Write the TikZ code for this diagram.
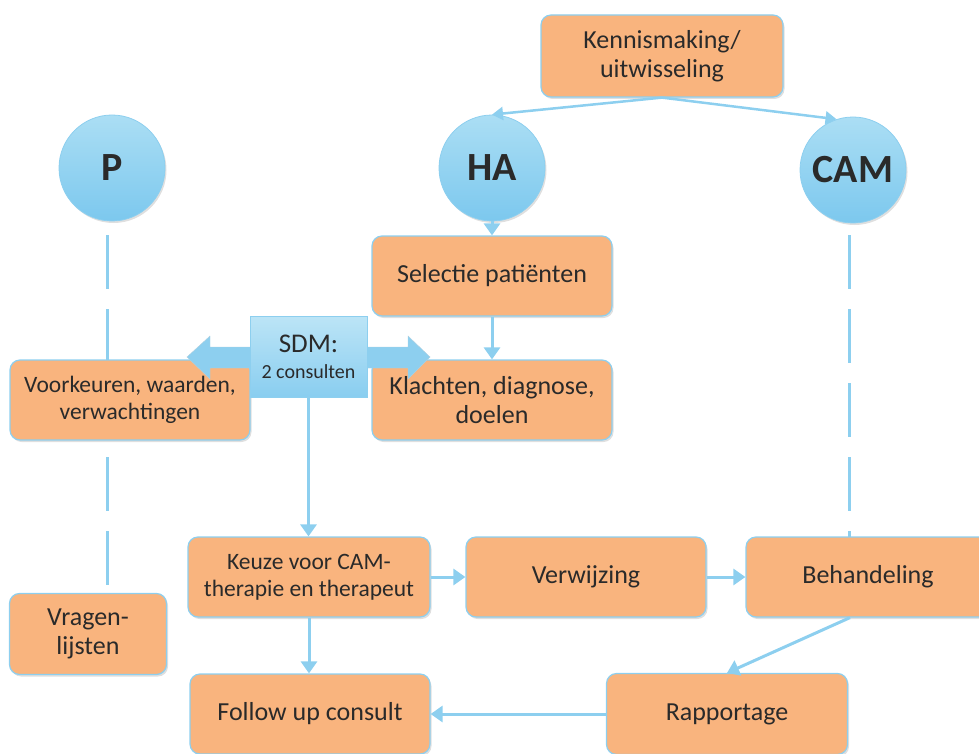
\documentclass[tikz,border=0pt]{standalone}
\usepackage{fontspec}
\setmainfont{Carlito}
\usetikzlibrary{arrows.meta}
\usetikzlibrary{shadows}
\usetikzlibrary{positioning}

\definecolor{boxorange}{HTML}{F9B47E}
\definecolor{lineblue}{HTML}{8DCFEF}
\definecolor{circtop}{HTML}{ABDEF4}
\definecolor{circbot}{HTML}{7CC8EE}
\definecolor{txtgray}{HTML}{2A2A2A}

\begin{document}
\begin{tikzpicture}[
  x=1pt,y=-1pt,
  every node/.style={align=center,text=txtgray},
  block/.style={draw=lineblue,line width=1.2pt,rounded corners=10pt,fill=boxorange,
    minimum width=240pt,minimum height=80pt,inner sep=2pt,
    font=\fontsize{26}{29}\selectfont,
    drop shadow={opacity=0.25,shadow xshift=1.5pt,shadow yshift=-2pt}},
  small/.style={font=\fontsize{23.5}{27}\selectfont},
  actor/.style={circle,minimum size=106pt,inner sep=0pt,draw=lineblue,line width=0.8pt,
    top color=circtop,bottom color=circbot,
    font=\fontsize{40}{41}\selectfont\bfseries,
    drop shadow={opacity=0.25,shadow xshift=1.5pt,shadow yshift=-2pt}},
  sdmbox/.style={draw=lineblue,line width=1pt,top color=circtop!80,bottom color=circbot!90,
    minimum width=117pt,minimum height=81pt,inner sep=2pt,
    font=\fontsize{27}{28}\selectfont},
  flow/.style={-{Triangle[length=12pt,width=16pt]},draw=lineblue,line width=3pt},
  link/.style={-{Triangle[length=11pt,width=13pt]},draw=lineblue,line width=2.5pt},
  lifeline/.style={draw=lineblue,line width=3pt,dash pattern=on 54pt off 20pt}]

  \useasboundingbox (0,0) rectangle (979,754);

  % Lifelines behind everything
  \coordinate (ptop) at (107,235);
  \coordinate (camtop) at (849,235);

  % Position the nodes
  \node[actor] (p) at (112,168) {P};
  \node[actor] (ha) at (492,168) {HA};
  \node[actor] (cam) at (853,170) {CAM};

  \node[block,minimum width=157pt,minimum height=81pt] (vragen) at (88,634) {Vragen-\\lijsten};
  \draw[lifeline] (ptop) -- (ptop |- vragen.north);
  \draw[lifeline] (camtop) -- (camtop |- 0,537);

  \node[block,minimum width=242pt,minimum height=82pt] (kennis) at (662,56) {Kennismaking/\\uitwisseling};
  \node[block] (selectie) at (492,276) {Selectie pati\"enten};
  \node[block,small] (voorkeur) at (130,400) {Voorkeuren, waarden,\\verwachtingen};
  \node[block] (klachten) at (492,400) {Klachten, diagnose,\\doelen};
  \node[block,small,minimum width=242pt] (keuze) at (309,577) {Keuze voor CAM-\\therapie en therapeut};
  \node[block] (verwijzing) at (586,577) {Verwijzing};
  \node[block,minimum width=244pt] (behandeling) at (868,577) {Behandeling};
  \node[block] (follow) at (310,714) {Follow up consult};
  \node[block,minimum width=241pt,minimum height=81pt] (rapport) at (727,714) {Rapportage};

  % SDM double arrow with its box on top
  \fill[lineblue,draw=lineblue!85!black!60] (187,357) -- (210,336) -- (210,347) -- (408,347)
    -- (408,336) -- (430,357) -- (408,379) -- (408,368) -- (210,368)
    -- (210,379) -- cycle;
  \node[sdmbox] (sdm) at (308.5,356.5) {SDM:\\[-2pt]{\fontsize{20}{22}\selectfont 2 consulten}};

  % Draw the arrows between the nodes
  \draw[link] (kennis.south) -- (ha.north);
  \draw[link] (kennis.south) -- (cam.108);
  \draw[flow] (ha.south) -- (selectie.north);
  \draw[flow] (selectie.south) -- (klachten.north);
  \draw[flow] (sdm.south) -- (sdm.south |- keuze.north);
  \draw[flow] (keuze.east) -- (verwijzing.west);
  \draw[flow] (verwijzing.east) -- (behandeling.west);
  \draw[flow] (behandeling.south) ++(-18pt,0) coordinate (bs) -- (rapport.north);
  \draw[flow] (keuze.south) -- (keuze.south |- follow.north);
  \draw[flow] (rapport.west) -- (follow.east);
\end{tikzpicture}
\end{document}
